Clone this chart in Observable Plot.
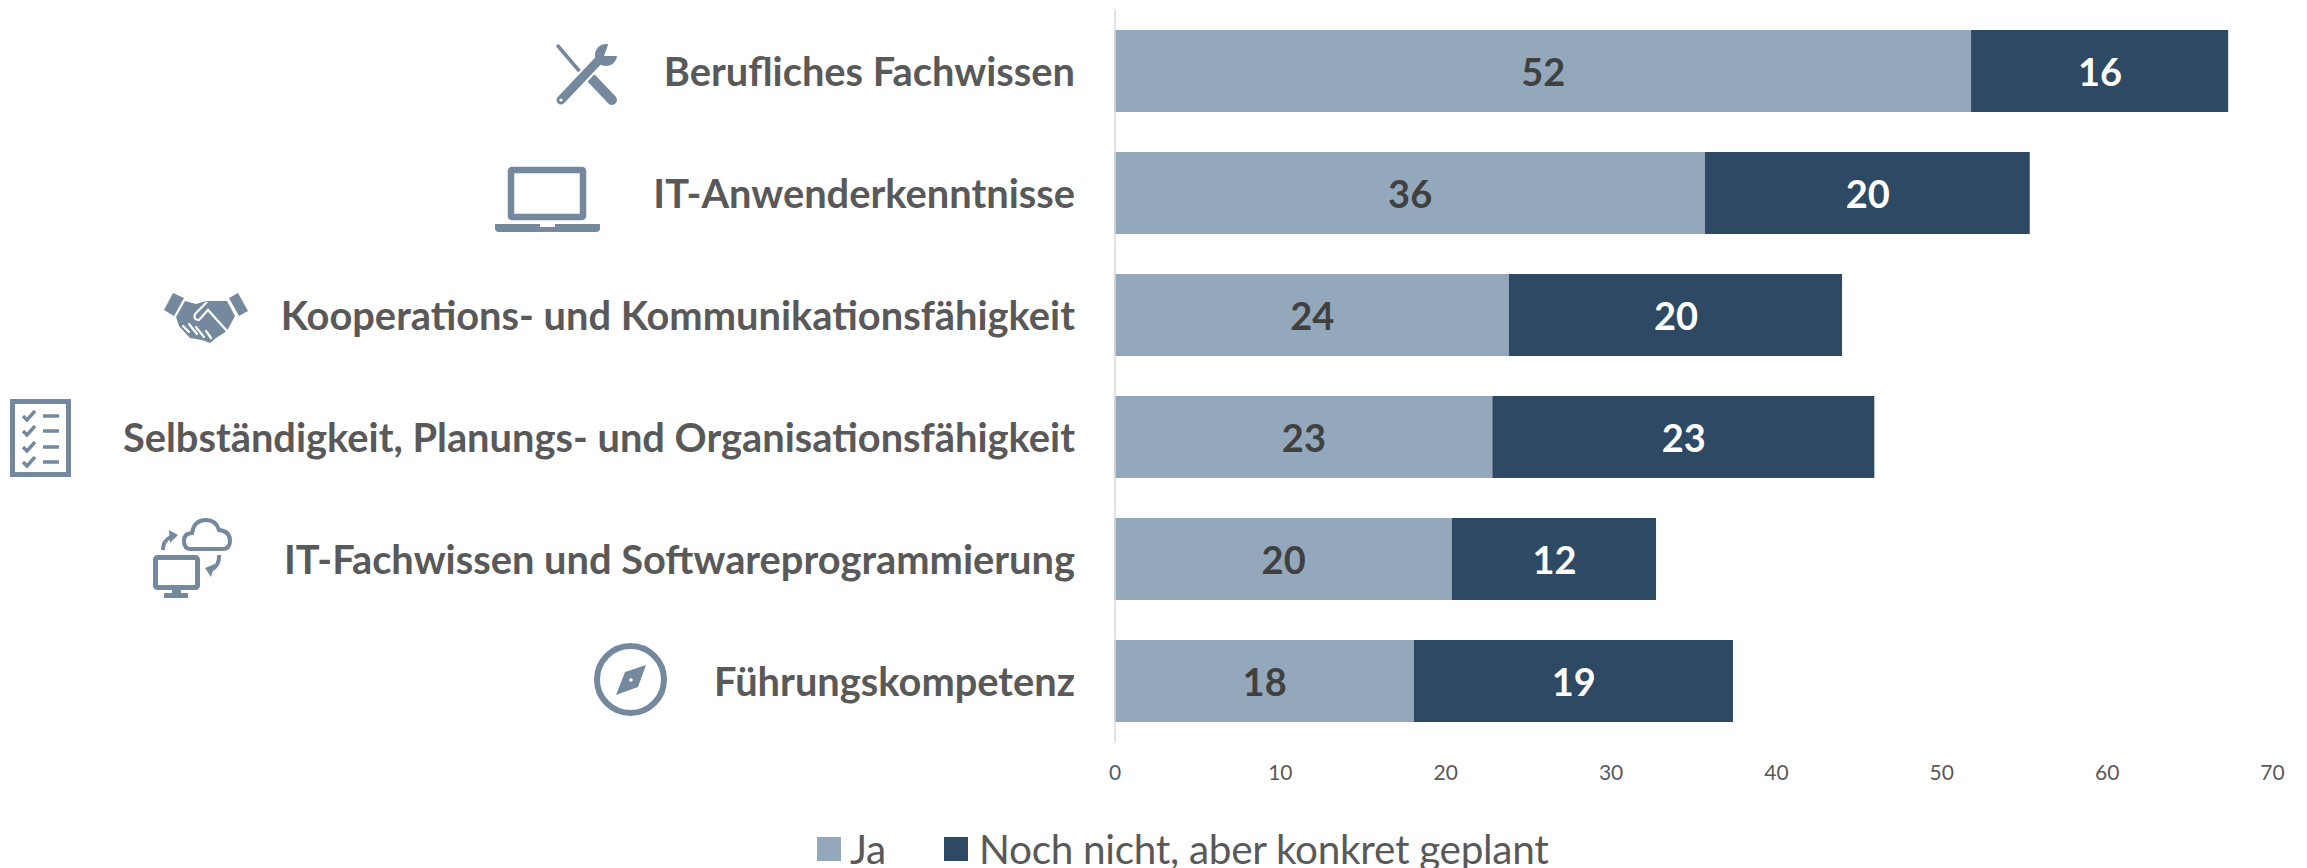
<!DOCTYPE html>
<html lang="de">
<head>
<meta charset="utf-8">
<script src="https://cdn.jsdelivr.net/npm/d3@7"></script>
<script src="https://cdn.jsdelivr.net/npm/@observablehq/plot@0.6"></script>
<style>
  html, body { margin: 0; padding: 0; background: #fff; overflow: hidden; }
  svg { display: block; }
  #legend { position: relative; height: 43px; font-family: Lato, sans-serif; color: #595959; font-size: 40.5px; }
  #legend .sw { position: absolute; top: 12px; width: 24px; height: 24px; }
  #legend .lb { position: absolute; top: 23px; transform: translateY(-50%); white-space: nowrap; letter-spacing: -0.3px; }
</style>
</head>
<body>
<div id="chart"></div>
<div id="legend"></div>
<script>
const categories = [
  "Berufliches Fachwissen",
  "IT-Anwenderkenntnisse",
  "Kooperations- und Kommunikationsfähigkeit",
  "Selbständigkeit, Planungs- und Organisationsfähigkeit",
  "IT-Fachwissen und Softwareprogrammierung",
  "Führungskompetenz"
];
const seriesNames = ["Ja", "Noch nicht, aber konkret geplant"];
const jaValues = [51.8, 35.7, 23.85, 22.85, 20.4, 18.1];
const geplantValues = [15.55, 19.65, 20.15, 23.1, 12.35, 19.3];
const xTicks = [0, 10, 20, 30, 40, 50, 60, 70];
const seriesColors = ["#94a8bc", "#2e4963"];

const rows = [
  ...categories.map((category, i) => ({category, series: seriesNames[0], value: jaValues[i]})),
  ...categories.map((category, i) => ({category, series: seriesNames[1], value: geplantValues[i]}))
];

const ICON = "#74899e";
// Decorative pictograms, one for each category (left edge, offset from band centre, drawing)
const icons = [
  {left: 557, dy: -27, svg: `
    <path d="M1 2 L24 29" stroke="${ICON}" stroke-width="3.5" stroke-linecap="round"/>
    <path d="M35 35 L55 56" stroke="${ICON}" stroke-width="10" stroke-linecap="round"/>
    <path d="M4 56 L41 17" stroke="#fff" stroke-width="13"/>
    <path d="M4 56 L41 17" stroke="${ICON}" stroke-width="9" stroke-linecap="round"/>
    <circle cx="49" cy="11" r="11" fill="${ICON}"/>
    <path d="M47 12 L52 -2 L64 2 L60 12 Z" fill="#fff"/>
    <circle cx="4" cy="56" r="1.6" fill="#fff"/>`},
  {left: 495, dy: -26, svg: `
    <rect x="16" y="3" width="72" height="47" rx="1" fill="none" stroke="${ICON}" stroke-width="6.5"/>
    <path d="M0 57 H105 V61 Q105 65 101 65 H4 Q0 65 0 61 Z" fill="${ICON}"/>
    <rect x="45" y="57" width="15" height="3" fill="#fff"/>`},
  {left: 164, dy: -22, svg: `
    <path d="M9 0 L20 5 L10 23 L0 17 Z M74 0 L84 18 L75 23 L65 5 Z" fill="${ICON}"/>
    <path d="M21 8 L32 11 L42 8 L63 8 L71 23 L64 36 L60 40 L52 45 L46 50 L38 47 L26 45 L15 33 L12 24 Z" fill="${ICON}"/>
    <path d="M43 9 L31 21 Q29 27 35 27 L44 17 L63 38" fill="none" stroke="#fff" stroke-width="2.2"/>
    <path d="M19 33 L25 39 M25 31 L33 41 M32 34 L40 44 M42 38 L47 45" stroke="#fff" stroke-width="2.2" stroke-linecap="round"/>`},
  {left: 10, dy: -38, svg: `
    <rect x="2.5" y="2.5" width="56" height="73" fill="none" stroke="${ICON}" stroke-width="5"/>
    <path d="M13 17 L17 21 L25 12 M13 32 L17 36 L25 27 M13 48 L17 52 L25 43 M13 63 L17 67 L25 58" fill="none" stroke="${ICON}" stroke-width="3.4"/>
    <path d="M33 17 H49 M33 32 H49 M33 48 H49 M33 63 H49" stroke="${ICON}" stroke-width="3.6"/>`},
  {left: 153, dy: -41, svg: `
    <rect x="2.5" y="39.5" width="42" height="30" rx="2" fill="none" stroke="${ICON}" stroke-width="5"/>
    <path d="M19 70 H28 V75 H35 V80 H11 V75 H19 Z" fill="${ICON}"/>
    <path d="M38 31 Q31 31 31 23 Q31 15 39 15 Q41 2 53 2 Q63 2 66 12 Q77 13 77 23 Q77 31 69 31 Z" fill="none" stroke="${ICON}" stroke-width="4"/>
    <path d="M10 32 Q10 22 18 19" fill="none" stroke="${ICON}" stroke-width="4"/>
    <path d="M16 12 L25 17 L17 25 Z M52 50 L62 46 L58 59 Z" fill="${ICON}"/>
    <path d="M66 37 Q67 47 58 52" fill="none" stroke="${ICON}" stroke-width="4"/>`},
  {left: 594, dy: -38, svg: `
    <circle cx="36.5" cy="36.5" r="33.5" fill="none" stroke="${ICON}" stroke-width="6"/>
    <path d="M52 22 L44 44 L22 52 L31 29 Z" fill="${ICON}"/>
    <circle cx="37" cy="37" r="1.8" fill="#fff"/>`}
];

const iconMark = (index, scales) => {
  const g = document.createElementNS("http://www.w3.org/2000/svg", "g");
  g.setAttribute("aria-label", "icons");
  const bw = scales.y.bandwidth();
  categories.forEach((c, i) => {
    const ic = icons[i];
    const cy = scales.y(c) + bw / 2;
    const n = document.createElementNS("http://www.w3.org/2000/svg", "g");
    n.setAttribute("transform", `translate(${ic.left},${cy + ic.dy})`);
    n.innerHTML = ic.svg;
    g.appendChild(n);
  });
  return g;
};

const plot = Plot.plot({
  width: 2307,
  height: 825,
  marginLeft: 1114.5,
  marginRight: 35,
  marginTop: 9,
  marginBottom: 82,
  style: {fontFamily: "Lato, sans-serif", background: "#fff", overflow: "visible"},
  x: {domain: [0, 70], ticks: xTicks, label: null},
  y: {domain: categories, paddingInner: 0.33, paddingOuter: 0.165, label: null},
  color: {domain: seriesNames, range: seriesColors},
  marks: [
    Plot.barX(rows, Plot.stackX({x: "value", y: "category", fill: "series", z: "series"})),
    Plot.ruleX([0], {stroke: "#d9d9d9", strokeWidth: 1.5}),
    Plot.axisX({ticks: xTicks, tickSize: 0, tickPadding: 22, fontSize: 21, fill: "#595959", label: null}),
    Plot.axisY({tickSize: 0, tickPadding: 40, fontSize: 39.8, fontWeight: 700, fill: "#595959", label: null, dy: 2}),
    Plot.text(rows, Plot.filter(d => d.series === seriesNames[0], Plot.stackX({
      x: "value", y: "category", z: "series", text: d => String(Math.round(d.value)),
      fill: "#404040", fontSize: 38, fontWeight: 700, dy: 2
    }))),
    Plot.text(rows, Plot.filter(d => d.series === seriesNames[1], Plot.stackX({
      x: "value", y: "category", z: "series", text: d => String(Math.round(d.value)),
      fill: "#ffffff", fontSize: 38, fontWeight: 700, dy: 2
    }))),
    iconMark
  ]
});
document.getElementById("chart").appendChild(plot);

const legend = document.getElementById("legend");
const legendPos = [{sw: 817, lb: 850}, {sw: 944, lb: 979}];
seriesNames.forEach((name, i) => {
  const sw = document.createElement("div");
  sw.className = "sw";
  sw.style.left = legendPos[i].sw + "px";
  sw.style.background = seriesColors[i];
  const lb = document.createElement("div");
  lb.className = "lb";
  lb.style.left = legendPos[i].lb + "px";
  lb.textContent = name;
  legend.append(sw, lb);
});
</script>
</body>
</html>
